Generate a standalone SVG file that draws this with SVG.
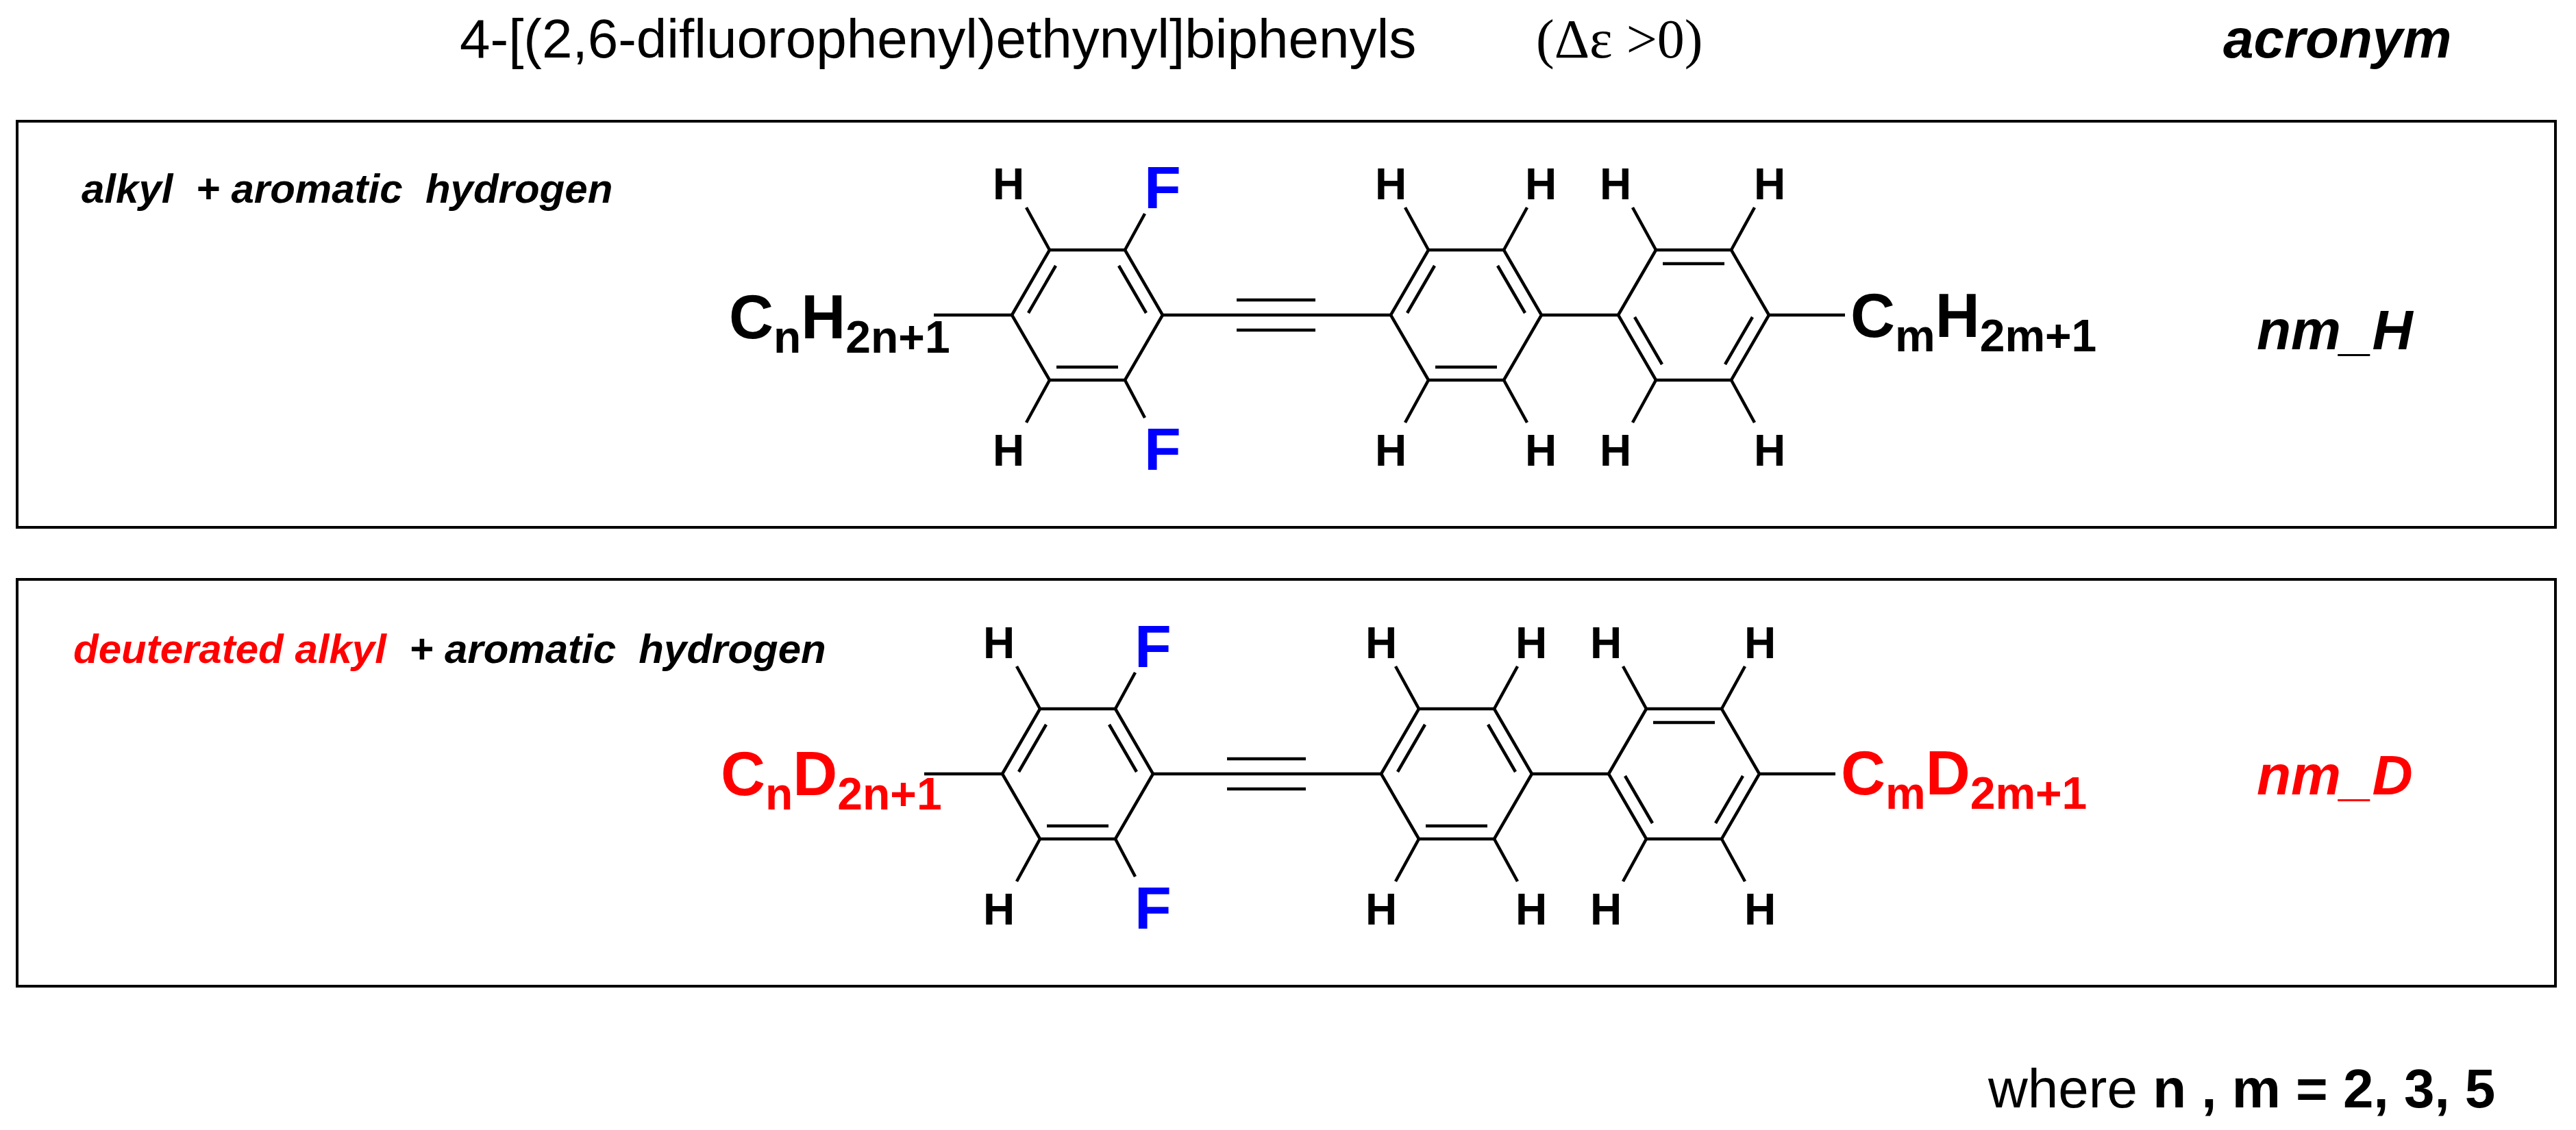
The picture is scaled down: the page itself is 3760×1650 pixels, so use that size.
<svg xmlns="http://www.w3.org/2000/svg" xmlns:xlink="http://www.w3.org/1999/xlink" width="3760" height="1650" viewBox="0 0 3760 1650">
<style>
.box{fill:none;stroke:#000;stroke-width:4}
.b{stroke:#000;stroke-width:4.5;fill:none;stroke-linecap:butt}
.sans{font-family:"Liberation Sans",Arial,sans-serif}
.at{font-family:"Liberation Sans",Arial,sans-serif;font-weight:bold;text-anchor:middle}
.h{font-size:64px;fill:#000}
.f{font-size:88px;fill:#0000ff}
.big{font-family:"Liberation Sans",Arial,sans-serif;font-weight:bold;font-size:90px}
.lab{font-family:"Liberation Sans",Arial,sans-serif;font-weight:bold;font-style:italic;font-size:60px}
</style>
<defs>
<g id="skel">
<g class="b">
<polygon points="1477,460 1532,365 1642,365 1697,460 1642,555 1532,555"/>
<polygon points="2030,460 2085,365 2195,365 2250,460 2195,555 2085,555"/>
<polygon points="2362,460 2417,365 2527,365 2582,460 2527,555 2417,555"/>
<line x1="1541" y1="388" x2="1501" y2="457"/>
<line x1="1633" y1="388" x2="1673" y2="457"/>
<line x1="1542" y1="536" x2="1632" y2="536"/>
<line x1="2094" y1="388" x2="2054" y2="457"/>
<line x1="2186" y1="388" x2="2226" y2="457"/>
<line x1="2095" y1="536" x2="2185" y2="536"/>
<line x1="2427" y1="385" x2="2517" y2="385"/>
<line x1="2386" y1="463" x2="2426" y2="532"/>
<line x1="2558" y1="463" x2="2518" y2="532"/>
<line x1="1697" y1="460" x2="2030" y2="460"/>
<line x1="1805" y1="438" x2="1920" y2="438"/>
<line x1="1805" y1="482" x2="1920" y2="482"/>
<line x1="2250" y1="460" x2="2362" y2="460"/>
<line x1="2582" y1="460" x2="2693" y2="460"/>
<line x1="1363" y1="460" x2="1477" y2="460"/>
<line x1="1532" y1="365" x2="1498" y2="303"/>
<line x1="1642" y1="365" x2="1671" y2="312"/>
<line x1="1532" y1="555" x2="1498" y2="617"/>
<line x1="1642" y1="555" x2="1671" y2="610"/>
<line x1="2085" y1="365" x2="2051" y2="303"/>
<line x1="2195" y1="365" x2="2229" y2="303"/>
<line x1="2085" y1="555" x2="2051" y2="617"/>
<line x1="2195" y1="555" x2="2229" y2="617"/>
<line x1="2417" y1="365" x2="2383" y2="303"/>
<line x1="2527" y1="365" x2="2561" y2="303"/>
<line x1="2417" y1="555" x2="2383" y2="617"/>
<line x1="2527" y1="555" x2="2561" y2="617"/>
</g>
<g class="at h">
<text x="1472" y="291">H</text>
<text x="2030" y="291">H</text>
<text x="2249" y="291">H</text>
<text x="2358" y="291">H</text>
<text x="2583" y="291">H</text>
<text x="1472" y="680">H</text>
<text x="2030" y="680">H</text>
<text x="2249" y="680">H</text>
<text x="2358" y="680">H</text>
<text x="2583" y="680">H</text>
</g>
<g class="at f">
<text x="1697" y="304">F</text>
<text x="1697" y="686">F</text>
</g>
</g>
</defs>

<g id="title">
<text class="sans" x="671" y="84" font-size="80">4-[(2,6-difluorophenyl)ethynyl]biphenyls</text>
<text x="2242" y="84" font-size="80" font-family="'Liberation Serif','Times New Roman',serif">(Δε &gt;0)</text>
<text class="sans" x="3245" y="84" font-size="80" font-weight="bold" font-style="italic">acronym</text>
</g>

<g id="box-H">
<rect class="box" x="25" y="177" width="3705" height="593"/>
<text class="lab" x="119" y="296" xml:space="preserve">alkyl  + aromatic  hydrogen</text>
<use xlink:href="#skel"/>
<text class="big" x="1064" y="494">C<tspan font-size="66" dy="21">n</tspan><tspan dy="-21">H</tspan><tspan font-size="66" dy="21">2n+1</tspan></text>
<text class="big" x="2701" y="492">C<tspan font-size="66" dy="21">m</tspan><tspan dy="-21">H</tspan><tspan font-size="66" dy="21">2m+1</tspan></text>
<text class="sans" x="3294" y="510" font-size="82" font-weight="bold" font-style="italic">nm_H</text>
</g>

<g id="box-D">
<rect class="box" x="25" y="846" width="3705" height="594"/>
<text class="lab" x="107" y="968" xml:space="preserve"><tspan fill="#ff0000">deuterated alkyl</tspan>  + aromatic  hydrogen</text>
<use xlink:href="#skel" transform="translate(-14,670)"/>
<text class="big" x="1052" y="1161" fill="#ff0000">C<tspan font-size="66" dy="21">n</tspan><tspan dy="-21">D</tspan><tspan font-size="66" dy="21">2n+1</tspan></text>
<text class="big" x="2687" y="1160" fill="#ff0000">C<tspan font-size="66" dy="21">m</tspan><tspan dy="-21">D</tspan><tspan font-size="66" dy="21">2m+1</tspan></text>
<text class="sans" x="3294" y="1160" font-size="82" font-weight="bold" font-style="italic" fill="#ff0000">nm_D</text>
</g>

<g id="note">
<text class="sans" x="2902" y="1617" font-size="80" xml:space="preserve">where <tspan font-weight="bold">n , m = 2, 3, 5</tspan></text>
</g>
</svg>
